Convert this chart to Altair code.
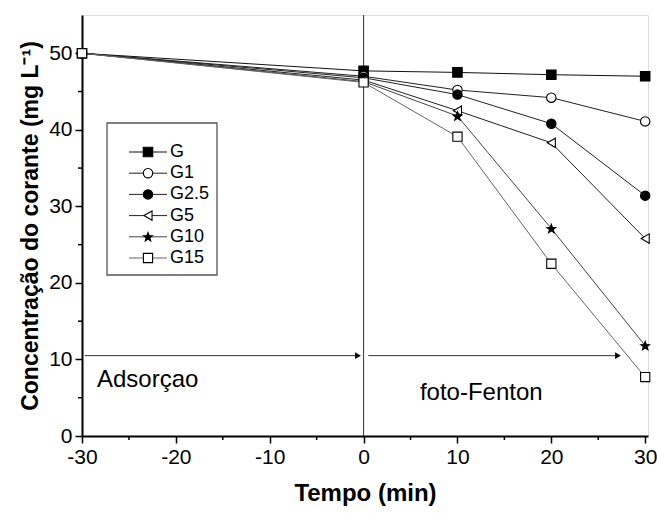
import math
import altair as alt
import pandas as pd

# ---------------- data ----------------
times = [-30, 0, 10, 20, 30]
series_names = ["G", "G1", "G2.5", "G5", "G10", "G15"]
G = [50.0, 47.7, 47.5, 47.2, 47.0]
G1 = [50.0, 47.0, 45.2, 44.2, 41.1]
G2_5 = [50.0, 46.8, 44.6, 40.8, 31.4]
G5 = [50.0, 46.5, 42.5, 38.3, 25.8]
G10 = [50.0, 46.3, 41.8, 27.1, 11.8]
G15 = [50.0, 46.2, 39.1, 22.5, 7.7]
values = [G, G1, G2_5, G5, G10, G15]

y_ticks = [0, 10, 20, 30, 40, 50]
y_minor = [5, 15, 25, 35, 45]
x_ticks = [-30, -20, -10, 0, 10, 20, 30]
x_minor = [-25, -15, -5, 5, 15, 25]

arrow_start = [-29.7, 0.5]
arrow_end = [-0.6, 27.1]
arrow_level = 10.5
labels_text = ["Adsorçao", "foto-Fenton"]
labels_x = [-28.4, 6.0]
labels_y = [7.3, 5.6]

# ---------------- styles ----------------
def star_path(n=5, r_out=1.0, r_in=0.42):
    pts = []
    for i in range(2 * n):
        r = r_out if i % 2 == 0 else r_in
        a = -math.pi / 2 + i * math.pi / n
        pts.append((r * math.cos(a), r * math.sin(a) + 0.08))
    return "M" + " L".join(f"{x:.3f},{y:.3f}" for x, y in pts) + " Z"

shapes = ["square", "circle", "circle", "triangle-left", star_path(), "square"]
fills = ["black", "white", "black", "white", "black", "white"]
line_colors = ["#111111", "#222222", "#222222", "#222222", "#444444", "#666666"]
sizes = [90, 85, 85, 110, 170, 85]

rows = []
for name, vals in zip(series_names, values):
    for t, v in zip(times, vals):
        rows.append({"series": name, "t": t, "c": v})
df = pd.DataFrame(rows)

W, H = 566, 421
x_scale = alt.Scale(domain=[-30, 30.3], nice=False, zero=False)
y_scale = alt.Scale(domain=[0, 55], nice=False)
font = "Liberation Sans"

X = alt.X("t:Q", scale=x_scale,
          axis=alt.Axis(values=x_ticks, title="Tempo (min)", grid=False,
                        labelExpr="'' + datum.value",
                        labelFontSize=21, titleFontSize=24, titleFontWeight="bold",
                        tickSize=7, tickWidth=1.5, domainWidth=2, domainColor="black",
                        tickColor="black", labelColor="black", titleColor="black",
                        labelPadding=3, titlePadding=14, labelFont=font, titleFont=font,
                        labelFlush=False))
Y = alt.Y("c:Q", scale=y_scale,
          axis=alt.Axis(values=y_ticks, title="Concentração do corante (mg  L⁻¹)", grid=False,
                        labelFontSize=21, titleFontSize=23, titleFontWeight="bold",
                        tickSize=7, tickWidth=1.5, domainWidth=2, domainColor="black",
                        tickColor="black", labelColor="black", titleColor="black",
                        labelPadding=3, titlePadding=6, labelFont=font, titleFont=font,
                        labelFlush=False))

color_scale = alt.Scale(domain=series_names, range=line_colors)
shape_scale = alt.Scale(domain=series_names, range=shapes)
fill_scale = alt.Scale(domain=series_names, range=fills)
size_scale = alt.Scale(domain=series_names, range=sizes)

base = alt.Chart(df)

lines = base.mark_line(strokeWidth=1).encode(
    x=X, y=Y,
    color=alt.Color("series:N", scale=color_scale, legend=None),
    detail="series:N",
)
points = base.mark_point(filled=True, stroke="black", strokeWidth=1.1, opacity=1).encode(
    x=X, y=Y,
    shape=alt.Shape("series:N", scale=shape_scale, legend=None),
    fill=alt.Fill("series:N", scale=fill_scale, legend=None),
    size=alt.Size("series:N", scale=size_scale, legend=None),
)

# vertical separator at t=0
vline_df = pd.DataFrame({"t": [0]})
vline = alt.Chart(vline_df).mark_rule(color="#333333", strokeWidth=1).encode(
    x=alt.X("t:Q", scale=x_scale)
)

# arrows
arr_df = pd.DataFrame({"x0": arrow_start, "x1": arrow_end, "y": [arrow_level] * 2})
arr_lines = alt.Chart(arr_df).mark_rule(color="#333333", strokeWidth=1).encode(
    x=alt.X("x0:Q", scale=x_scale), x2="x1:Q", y=alt.Y("y:Q", scale=y_scale)
)
arr_heads = alt.Chart(arr_df).mark_point(shape="triangle-right", filled=True, color="black",
                                          size=45, opacity=1).encode(
    x=alt.X("x1:Q", scale=x_scale), y=alt.Y("y:Q", scale=y_scale)
)

lab_df = pd.DataFrame({"txt": labels_text, "x": labels_x, "y": labels_y})
labels = alt.Chart(lab_df).mark_text(align="left", baseline="middle", fontSize=24,
                                     font=font, color="black").encode(
    x=alt.X("x:Q", scale=x_scale), y=alt.Y("y:Q", scale=y_scale), text="txt:N"
)

# minor ticks
ym_df = pd.DataFrame({"v": y_minor})
y_minor_ticks = alt.Chart(ym_df).mark_rule(color="black", strokeWidth=1.5).encode(
    y=alt.Y("v:Q", scale=y_scale), x=alt.value(0), x2=alt.value(-4)
)
xm_df = pd.DataFrame({"v": x_minor})
x_minor_ticks = alt.Chart(xm_df).mark_rule(color="black", strokeWidth=1.5).encode(
    x=alt.X("v:Q", scale=x_scale), y=alt.value(H), y2=alt.value(H + 4)
)

# manual legend (pixel layout)
leg_top, leg_step = 137, 21.2
leg_df = pd.DataFrame({
    "series": series_names,
    "ly": [leg_top + i * leg_step for i in range(len(series_names))],
})
legend_box = alt.Chart(pd.DataFrame({"a": [0]})).mark_rect(
    fill="white", stroke="#555555", strokeWidth=1.3).encode(
    x=alt.value(25), x2=alt.value(135), y=alt.value(108), y2=alt.value(260)
)
leg_lines = alt.Chart(leg_df).mark_rule(strokeWidth=1).encode(
    x=alt.value(47), x2=alt.value(85), y=alt.Y("ly:Q", scale=None),
    color=alt.Color("series:N", scale=color_scale, legend=None),
)
leg_points = alt.Chart(leg_df).mark_point(filled=True, stroke="black", strokeWidth=1.1,
                                          opacity=1).encode(
    x=alt.value(66), y=alt.Y("ly:Q", scale=None),
    shape=alt.Shape("series:N", scale=shape_scale, legend=None),
    fill=alt.Fill("series:N", scale=fill_scale, legend=None),
    size=alt.Size("series:N", scale=size_scale, legend=None),
)
leg_text = alt.Chart(leg_df).mark_text(align="left", baseline="middle", fontSize=18,
                                       font=font, color="black").encode(
    x=alt.value(88), y=alt.Y("ly:Q", scale=None), text="series:N"
)

chart = alt.layer(
    vline, arr_lines, arr_heads, labels, y_minor_ticks, x_minor_ticks,
    lines, points, legend_box, leg_lines, leg_points, leg_text,
).properties(
    width=W, height=H,
    autosize=alt.AutoSizeParams(type="none"),
    padding={"left": 82, "top": 15, "right": 9, "bottom": 78},
).configure_view(stroke="black", strokeWidth=2).configure(background="white")

chart.save("out.html", embed_options={"renderer": "svg", "actions": False})
